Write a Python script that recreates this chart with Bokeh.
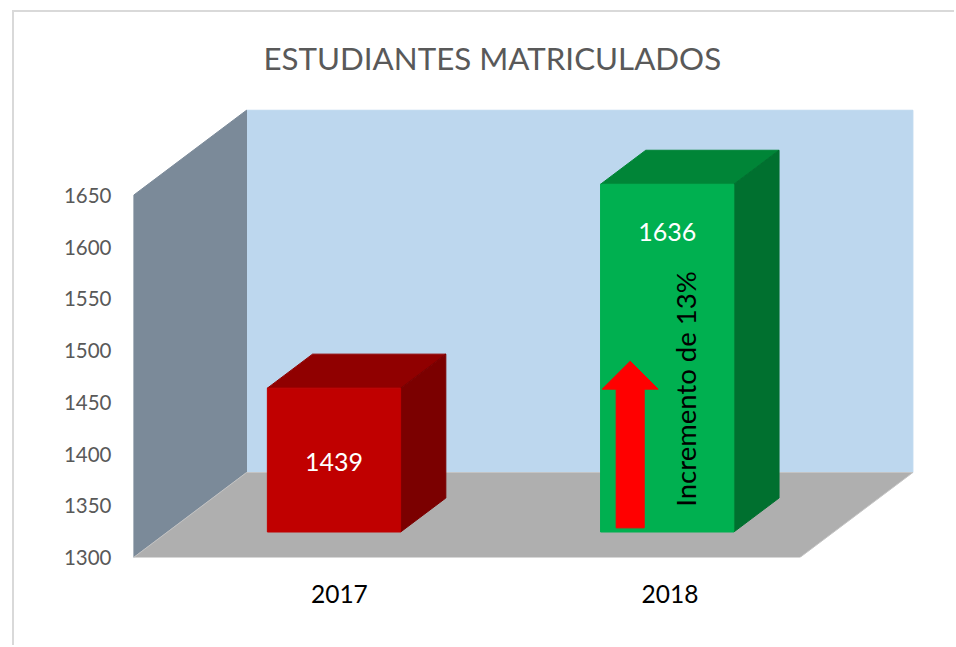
from bokeh.plotting import figure
from bokeh.models import Range1d, FixedTicker, LinearAxis
from bokeh.core.properties import value
from bokeh.embed import file_html
from bokeh.resources import INLINE

# --- data
title_text = "ESTUDIANTES MATRICULADOS"
years = ["2017", "2018"]
students = [1439, 1636]
y_ticks = [1300, 1350, 1400, 1450, 1500, 1550, 1600, 1650]
annotation_text = "Incremento de 13%"
label_levels = [1368, 1590]
arrow_levels = [1304, 1438, 1465]

# --- styles / projection
FONT = "Lato"
front_colors = ["#c00000", "#00b050"]
top_colors = ["#900000", "#008537"]
side_colors = ["#7b0000", "#00702f"]
PX_U = 333.2
PX_V = 1.035
DEPTH_U = 113 / PX_U
DEPTH_V = 85 / PX_V
V0, V1 = 1300, 1650
BAR_D0, BAR_D1 = 0.3, 0.7

OX, OY = 14, 12   # where the canvas starts, after the chart's border
W, H = 942, 635
p = figure(width=W, height=H, output_backend="svg", toolbar_location=None,
           x_range=Range1d(0, (W + OX - 133) / PX_U), y_range=Range1d(V0, V0 + 457 / PX_V),
           min_border_left=133 - OX, min_border_right=0, min_border_top=100 - OY,
           min_border_bottom=H + OY - 557,
           x_axis_type=None, y_axis_type=None)
p.styles = {"margin-left": "12px", "margin-top": "10px",
            "border-left": "2px solid #d9d9d9", "border-top": "2px solid #d9d9d9"}
p.outline_line_color = None
p.grid.visible = False
p.background_fill_color = "white"
p.border_fill_color = "white"

p.title.text = title_text
p.title.text_font = FONT
p.title.text_font_size = "31.3px"
p.title.text_font_style = "normal"
p.title.text_color = "#595959"
p.title.align = "left"
p.title.offset = 130
p.title.standoff = 48


def pt(u, v, d):
    return u + d * DEPTH_U, v + d * DEPTH_V


def face(points, color, line=None):
    xs, ys = zip(*[pt(*q) for q in points])
    p.patch(list(xs), list(ys), fill_color=color, line_color=line or color, line_width=1)


# walls and floor
face([(2, V0, 1), (2, V1, 1), (0, V1, 1), (0, V0, 1)], "#bdd7ee")
face([(0, V0, 0), (0, V1, 0), (0, V1, 1), (0, V0, 1)], "#7b8a99")
face([(0, V0, 0), (2, V0, 0), (2, V0, 1), (0, V0, 1)], "#afafaf", "#c4c4c4")

# bars
for i, val in enumerate(students):
    l, r = i + 0.3, i + 0.7
    d0, d1 = BAR_D0, BAR_D1
    face([(l, val, d0), (r, val, d0), (r, val, d1), (l, val, d1)], top_colors[i])
    face([(r, V0, d0), (r, V0, d1), (r, val, d1), (r, val, d0)], side_colors[i])
    face([(l, V0, d0), (r, V0, d0), (r, val, d0), (l, val, d0)], front_colors[i])
    cx, cy = pt(i + 0.5, label_levels[i], d0)
    p.text([cx], [cy], text=[str(val)], text_color="white", text_font=value(FONT),
           text_font_size="25px", text_align="center", text_baseline="middle")

# arrow on the 2018 bar
ac = 1 + 0.5 + BAR_D0 * DEPTH_U - 37 / PX_U
sw, hw = 14 / PX_U, 28 / PX_U
a0, a1, a2 = [pt(0, lv, BAR_D0)[1] for lv in arrow_levels]
p.patch([ac - sw, ac + sw, ac + sw, ac + hw, ac, ac - hw, ac - sw],
        [a0, a0, a1, a1, a2, a1, a1], fill_color="#ff0000", line_color="#ff0000")

# rotated annotation
p.text([(685 - 133) / PX_U], [1349], text=[annotation_text], angle=1.5708, text_color="black",
       text_font=value(FONT), text_font_size="27.5px", text_align="left", text_baseline="middle")

# axes
yax = LinearAxis(ticker=FixedTicker(ticks=y_ticks))
yax.axis_line_color = None
yax.major_tick_line_color = None
yax.minor_tick_line_color = None
yax.major_label_standoff = 16
yax.major_label_text_font = FONT
yax.major_label_text_font_size = "20.5px"
yax.major_label_text_color = "#595959"
p.add_layout(yax, "left")

tick_pos = [0.618, 1.61]
xax = LinearAxis(ticker=FixedTicker(ticks=tick_pos),
                 major_label_overrides=dict(zip(tick_pos, years)))
xax.axis_line_color = None
xax.major_tick_line_color = None
xax.minor_tick_line_color = None
xax.major_label_standoff = 21
xax.major_label_text_font = FONT
xax.major_label_text_font_size = "24.5px"
xax.major_label_text_color = "black"
p.add_layout(xax, "below")

open("out.html", "w").write(file_html(p, INLINE))
